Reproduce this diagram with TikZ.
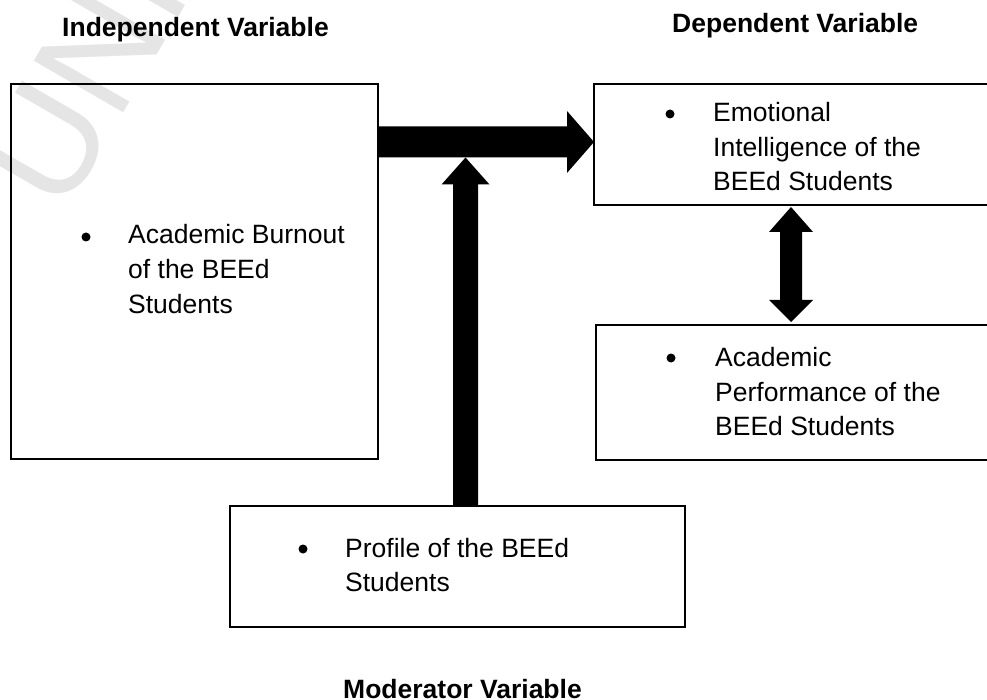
\documentclass[tikz,border=0pt]{standalone}
\usepackage{fontspec}
\setmainfont{Liberation Sans}
\usetikzlibrary{calc}
\begin{document}
\begin{tikzpicture}[x=1pt,y=-1pt,
  boxnode/.style={draw=black, line width=2pt, rectangle, inner sep=0pt, outer sep=0pt, anchor=north west},
  txt/.style={anchor=base west, inner sep=0pt, font=\fontsize{26.5}{34}\selectfont},
  ttl/.style={anchor=base west, inner sep=0pt, font=\fontsize{26.5}{34}\selectfont\bfseries},
  blt/.style={fill=black},
  bigarrow/.style={fill=black, draw=none},
  wmark/.style={anchor=base west, inner sep=0pt, rotate=60, text=gray!20, font=\fontsize{150}{150}\selectfont}
]
\clip (0,0) rectangle (987,700);
\fill[white] (0,0) rectangle (987,700);

% watermark
\node[wmark] (wm) at (63,217) {UNI};

% titles
\node[ttl] (tiv) at (62,37) {Independent Variable};
\node[ttl] (tdv) at (672,33) {Dependent Variable};
\node[ttl] (tmv) at (343,698) {Moderator Variable};

% boxes
\node[boxnode, minimum width=367pt, minimum height=375pt] (iv) at (11,84) {};
\node[boxnode, minimum width=410pt, minimum height=121pt] (dva) at (594,84) {};
\node[boxnode, minimum width=410pt, minimum height=135pt] (dvb) at (596,325) {};
\node[boxnode, minimum width=455pt, minimum height=121pt] (mv) at (230,506) {};

% texts
\fill[blt] (86,237) circle (4.5);
\node[txt] (iv1) at (128,244) {Academic Burnout};
\node[txt] (iv2) at (128,279) {of the BEEd};
\node[txt] (iv3) at (128,314) {Students};

\fill[blt] (670,114) circle (4.5);
\node[txt] (da1) at (713,122) {Emotional};
\node[txt] (da2) at (713,157) {Intelligence of the};
\node[txt] (da3) at (713,191) {BEEd Students};

\fill[blt] (671,358) circle (4.5);
\node[txt] (db1) at (715,366) {Academic};
\node[txt] (db2) at (715,401) {Performance of the};
\node[txt] (db3) at (715,435) {BEEd Students};

\fill[blt] (303,549) circle (4.5);
\node[txt] (mv1) at (345,557) {Profile of the BEEd};
\node[txt] (mv2) at (345,591) {Students};

% horizontal arrow: IV -> DV
\coordinate (hs) at ($(iv.north east)+(0,58)$);
\coordinate (he) at ($(dva.north west)+(0,58)$);
\fill[bigarrow] ($(hs)+(0,-15.5)$) -- ($(he)+(-27,-15.5)$) -- ($(he)+(-27,-31)$) -- (he)
  -- ($(he)+(-27,31)$) -- ($(he)+(-27,15.5)$) -- ($(hs)+(0,15.5)$) -- cycle;

% vertical arrow: moderator -> horizontal arrow
\coordinate (vs) at ($(mv.north)+(8,0)$);
\coordinate (hb) at ($(hs)+(0,15.5)$);
\coordinate (ve) at (vs |- hb);
\fill[bigarrow] ($(vs)+(-12.5,0)$) -- ($(ve)+(-12.5,27)$) -- ($(ve)+(-24,27)$) -- (ve)
  -- ($(ve)+(24,27)$) -- ($(ve)+(12.5,27)$) -- ($(vs)+(12.5,0)$) -- cycle;

% double arrow between DV boxes
\coordinate (de) at ($(dva.south west)+(197,2)$);
\coordinate (ds) at ($(dvb.north west)+(195,-3)$);
\fill[bigarrow] (de) -- ($(de)+(22,25)$) -- ($(de)+(11,25)$) -- ($(ds)+(11,-22)$) -- ($(ds)+(22,-22)$)
  -- (ds) -- ($(ds)+(-22,-22)$) -- ($(ds)+(-11,-22)$) -- ($(de)+(-11,25)$) -- ($(de)+(-22,25)$) -- cycle;
\end{tikzpicture}
\end{document}
